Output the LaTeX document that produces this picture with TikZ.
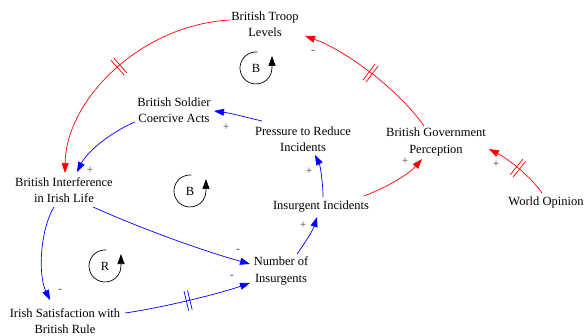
\documentclass[tikz,border=0pt]{standalone}
\usepackage{fontspec}
\setmainfont{Liberation Serif}
\usetikzlibrary{arrows.meta,decorations.markings,calc}
\begin{document}
\begin{tikzpicture}[x=1pt,y=-1pt,
  var/.style={align=center,inner sep=0pt,font=\fontsize{12.5}{16.5}\selectfont},
  link/.style={line width=0.7pt,-{Triangle[length=10pt,width=7pt]}},
  redl/.style={link,red},
  bluel/.style={link,blue},
  delay/.style={postaction={decorate},decoration={markings,mark=at position 0.5 with {\draw[#1,line width=0.7pt,-] (-1.8pt,-10pt)--(-1.8pt,10pt) (1.8pt,-10pt)--(1.8pt,10pt);}}},
  pol/.style={font=\fontsize{11.5}{11.5}\selectfont,text=black!75,inner sep=0pt},
  loopm/.style={line width=0.7pt,black,-{Triangle[length=10pt,width=7pt]}},
]
\useasboundingbox (0,0) rectangle (585,336);

% variables
\node[var] (btl) at (265,24) {British Troop\\Levels};
\node[var] (bsca) at (174,110) {British Soldier\\Coercive Acts};
\node[var] (prti) at (303,139) {Pressure to Reduce\\Incidents};
\node[var] (bgp) at (436,142) {British Government\\Perception};
\node[var] (biil) at (64,190) {British Interference\\in Irish Life};
\node[var] (ii) at (321,207) {Insurgent Incidents};
\node[var] (wo) at (546,202) {World Opinion};
\node[var] (noi) at (281,271) {Number of\\Insurgents};
\node[var] (isbr) at (65,321) {Irish Satisfaction with\\British Rule};

% links
\draw[redl,delay=red] ($(bgp)+(-12,-16)$) .. controls (395,85) and (340,48) .. ($(btl)+(40,12)$);
\draw[redl,delay=red] ($(btl)+(-35,-4)$) .. controls (140,25) and (66,100) .. ($(biil)+(1,-17)$);
\draw[bluel] ($(bsca)+(-39,12)$) .. controls (115,130) and (88,150) .. ($(biil)+(13,-18)$);
\draw[bluel] ($(prti)+(-41,-18)$) .. controls (245,117) and (230,113) .. ($(bsca)+(40,1)$);
\draw[bluel] ($(ii)+(2,-10)$) .. controls (323,182) and (320,165) .. ($(prti)+(12,16)$);
\draw[redl] ($(ii)+(43,-11)$) .. controls (385,188) and (408,175) .. ($(bgp)+(-14,17)$);
\draw[redl,delay=red] ($(wo)+(-4,-9)$) .. controls (532,178) and (510,160) .. ($(bgp)+(53,7)$);
\draw[bluel] ($(noi)+(16,-17)$) .. controls (305,243) and (313,230) .. ($(ii)+(-4,10)$);
\draw[bluel] ($(biil)+(29,17)$) .. controls (140,228) and (200,250) .. ($(noi)+(-31,-7)$);
\draw[bluel] ($(biil)+(-10,17)$) .. controls (40,230) and (38,275) .. ($(isbr)+(-15,-21)$);
\draw[bluel,delay=blue] ($(isbr)+(60,-8)$) .. controls (160,308) and (215,295) .. ($(noi)+(-31,12)$);

% polarities
\node[pol] (p1) at (313,52) {-};
\node[pol] (p2) at (90,170) {+};
\node[pol] (p3) at (226,127) {+};
\node[pol] (p4) at (309,171) {+};
\node[pol] (p5) at (405,161) {+};
\node[pol] (p6) at (496,164) {+};
\node[pol] (p7) at (303,225) {+};
\node[pol] (p8) at (238,251) {-};
\node[pol] (p9) at (60,291) {-};
\node[pol] (p10) at (232,277) {-};

% loop markers
\node[var] (lb1) at (256,68) {B};
\draw[loopm] ($(lb1)+(-85:16)$) arc[start angle=-85,end angle=-360,radius=16] -- ++(0,-12);
\node[var] (lb2) at (190,191) {B};
\draw[loopm] ($(lb2)+(-85:16)$) arc[start angle=-85,end angle=-360,radius=16] -- ++(0,-12);
\node[var] (lr) at (105,266) {R};
\draw[loopm] ($(lr)+(-85:16)$) arc[start angle=-85,end angle=-360,radius=16] -- ++(0,-12);
\end{tikzpicture}
\end{document}
